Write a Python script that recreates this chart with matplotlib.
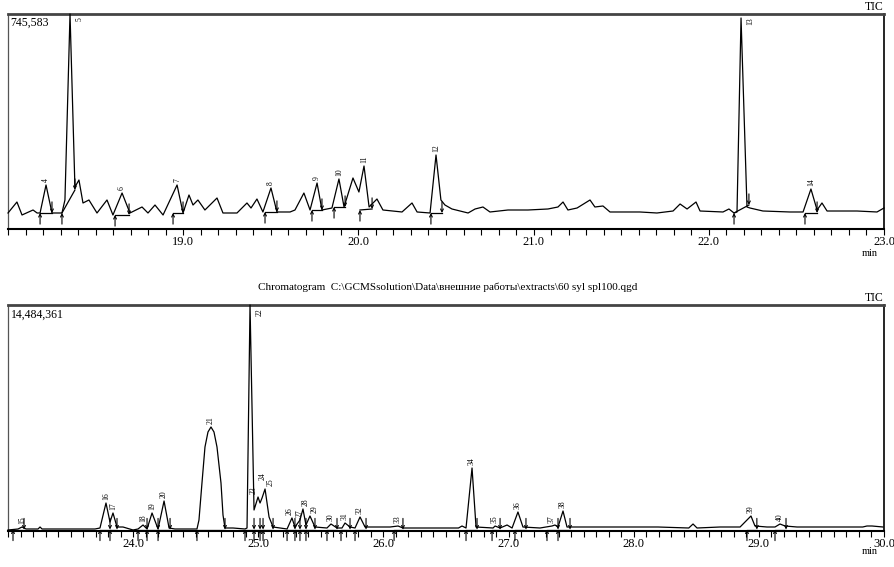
import matplotlib
matplotlib.use("Agg")
import matplotlib.pyplot as plt
import numpy as np
from matplotlib.ticker import MultipleLocator, FixedLocator, FormatStrFormatter

plt.rcParams['font.family'] = ['Liberation Serif', 'DejaVu Serif']

# ---- upper chromatogram (18-23 min), TIC counts ----
top_max = 745583
top_time = [18.000, 18.051, 18.080, 18.143, 18.166, 18.183, 18.217, 18.251, 18.308, 18.325,
            18.354, 18.382, 18.405, 18.428, 18.462, 18.508, 18.565, 18.599, 18.651, 18.696,
            18.765, 18.799, 18.839, 18.885, 18.965, 18.999, 19.033, 19.056, 19.084, 19.124,
            19.193, 19.227, 19.307, 19.364, 19.387, 19.421, 19.455, 19.501, 19.535, 19.610,
            19.638, 19.689, 19.724, 19.764, 19.792, 19.849, 19.889, 19.918, 19.969, 20.003,
            20.032, 20.061, 20.106, 20.140, 20.249, 20.306, 20.335, 20.409, 20.443, 20.471,
            20.494, 20.534, 20.626, 20.666, 20.711, 20.751, 20.854, 20.968, 21.082, 21.139,
            21.168, 21.196, 21.248, 21.322, 21.350, 21.396, 21.436, 21.607, 21.704, 21.796,
            21.836, 21.876, 21.927, 21.950, 22.081, 22.115, 22.144, 22.161, 22.184, 22.218,
            22.235, 22.309, 22.463, 22.538, 22.583, 22.618, 22.646, 22.675, 22.846, 22.960,
            23.000]
top_int = [55500, 93600, 48600, 65900, 55500, 55500, 152600, 55500, 55500, 100600,
           745583, 145700, 169900, 90200, 100600, 55500, 100600, 48600, 124800, 55500,
           76300, 55500, 83200, 48600, 152600, 55500, 117900, 83200, 100600, 65900,
           107500, 55500, 55500, 90200, 72800, 104000, 59000, 142200, 59000, 59000,
           65900, 124800, 65900, 159500, 65900, 72800, 173400, 76300, 176900, 128300,
           218500, 76300, 104000, 65900, 59000, 90200, 59000, 55500, 256600, 100600,
           83200, 69400, 55500, 69400, 76300, 59000, 65900, 65900, 69400, 76300,
           93600, 65900, 72800, 100600, 76300, 79800, 59000, 59000, 55500, 62400,
           86700, 69400, 93600, 62400, 59000, 69400, 55500, 59000, 731700, 76300,
           72800, 62400, 59000, 59000, 138700, 65900, 90200, 62400, 62400, 59000,
           72800]

top_peaks = [4, 5, 6, 7, 8, 9, 10, 11, 12, 13, 14]
top_apex = [18.217, 18.354, 18.651, 18.965, 19.501, 19.764, 19.889, 20.032, 20.443, 22.184, 22.583]
top_start = [18.183, 18.308, 18.611, 18.942, 19.467, 19.735, 19.861, 20.009, 20.414, 22.144, 22.549]
top_end = [18.251, 18.382, 18.691, 18.999, 19.535, 19.792, 19.924, 20.078, 20.477, 22.229, 22.618]
top_base_start = [55500, 55500, 48600, 55500, 59000, 65900, 76300, 65900, 55500, 55500, 55500]
top_base_end = [55500, 135300, 48600, 55500, 59000, 65900, 76300, 69400, 55500, 83200, 55500]

# ---- lower chromatogram (23-30 min) ----
bot_max = 14484361
bot_time = [23.000, 23.080, 23.112, 23.144, 23.240, 23.256, 23.272, 23.695, 23.735, 23.783,
            23.815, 23.839, 23.871, 23.919, 23.999, 24.039, 24.079, 24.111, 24.151, 24.199,
            24.247, 24.287, 24.334, 24.510, 24.526, 24.550, 24.574, 24.598, 24.622, 24.646,
            24.670, 24.702, 24.718, 24.734, 24.798, 24.894, 24.910, 24.934, 24.966, 24.998,
            25.014, 25.030, 25.054, 25.086, 25.118, 25.230, 25.269, 25.293, 25.333, 25.357,
            25.381, 25.413, 25.453, 25.549, 25.581, 25.629, 25.669, 25.693, 25.733, 25.773,
            25.813, 25.853, 25.949, 26.053, 26.117, 26.156, 26.396, 26.600, 26.628, 26.660,
            26.708, 26.740, 26.876, 26.892, 26.932, 26.988, 27.028, 27.075, 27.115, 27.251,
            27.347, 27.371, 27.395, 27.435, 27.467, 27.595, 27.707, 28.194, 28.440, 28.474,
            28.506, 28.690, 28.850, 28.937, 28.969, 29.065, 29.129, 29.169, 29.209, 29.305,
            29.830, 29.864, 29.904, 29.992]
bot_int = [64100, 128200, 256400, 128200, 128200, 256400, 128200, 128200, 192300, 1794500,
           576800, 1153600, 256400, 256400, 64100, 128200, 384500, 128200, 1153600, 128200,
           1922700, 192300, 128200, 128200, 700000, 3076300, 5383600, 6345000, 6665400, 6345000,
           5383600, 3076300, 1025400, 192300, 192300, 128200, 192300, 14484361, 1345900, 2179100,
           1794500, 2115000, 2691800, 897300, 256400, 128200, 833200, 256400, 705000, 1410000,
           384500, 961400, 256400, 192300, 448600, 192300, 192300, 512700, 256400, 192300,
           897300, 256400, 256400, 256400, 320500, 192300, 192300, 192300, 320500, 192300,
           4037700, 256400, 192300, 320500, 192300, 384500, 192300, 1217700, 256400, 192300,
           320500, 384500, 256400, 1281800, 256400, 256400, 256400, 256400, 192300, 448600,
           192300, 256400, 256400, 961400, 320500, 256400, 256400, 448600, 320500, 256400,
           256400, 320500, 320500, 256400]

bot_peaks = list(range(15, 41))
bot_apex = [23.112, 23.783, 23.839, 24.079, 24.151, 24.247, 24.622, 24.934, 24.998, 25.030,
            25.054, 25.269, 25.333, 25.357, 25.413, 25.581, 25.693, 25.813, 26.117, 26.708,
            26.892, 27.075, 27.347, 27.435, 28.937, 29.169]
bot_start = [23.040, 23.735, 23.815, 24.039, 24.111, 24.199, 24.510, 24.894, 24.966, 25.014,
             25.038, 25.230, 25.293, 25.333, 25.381, 25.549, 25.661, 25.773, 26.085, 26.660,
             26.868, 27.051, 27.307, 27.395, 28.905, 29.129]
bot_end = [23.128, 23.815, 23.871, 24.111, 24.199, 24.295, 24.734, 24.966, 25.014, 25.038,
           25.118, 25.293, 25.333, 25.381, 25.453, 25.629, 25.733, 25.861, 26.156, 26.748,
           26.932, 27.139, 27.395, 27.491, 28.984, 29.217]
bot_base_start = [96000] * 26
bot_base_end = [96000] * 26

# small nudges (points) for crowded peak numbers
label_nudge = {23: (-3.5, 2), 24: (0.5, 13), 25: (4, 2),
               26: (-2, 2), 27: (0, 2), 28: (2, 2), 29: (3, 2)}


def draw_panel(ax, t, y, ymax, x0, x1, majors, peaks, apex, start, end, bs, be, max_label):
    ax.plot(t, y, color='black', lw=0.9, clip_on=False, zorder=3)
    ax.set_xlim(x0, x1)
    ax.set_ylim(0, ymax)

    # integration marks: baseline + start/end arrows
    for s, e, b0, b1 in zip(start, end, bs, be):
        ax.plot([s, e], [b0, b1], color='black', lw=0.9, zorder=2)
        ax.annotate('', xy=(s, b0), xytext=(0, -8), textcoords='offset points',
                    arrowprops=dict(arrowstyle='->', lw=0.8, color='black',
                                    shrinkA=0, shrinkB=0, mutation_scale=5),
                    annotation_clip=False)
        ax.annotate('', xy=(e, b1), xytext=(0, 8), textcoords='offset points',
                    arrowprops=dict(arrowstyle='->', lw=0.8, color='black',
                                    shrinkA=0, shrinkB=0, mutation_scale=5),
                    annotation_clip=False)

    # peak numbers
    for n, a in zip(peaks, apex):
        h = np.interp(a, t, y)
        if h > 0.9 * ymax:
            ax.annotate(str(n), xy=(a, ymax), xytext=(4, -2), textcoords='offset points',
                        rotation=90, fontsize=5.5, ha='left', va='top')
        else:
            ax.annotate(str(n), xy=(a, h), xytext=label_nudge.get(n, (0, 2)),
                        textcoords='offset points',
                        rotation=90, fontsize=5.5, ha='center', va='bottom')

    ax.set_yticks([])
    ax.xaxis.set_major_locator(FixedLocator(majors))
    ax.xaxis.set_major_formatter(FormatStrFormatter('%.1f'))
    ax.xaxis.set_minor_locator(MultipleLocator(0.1))
    ax.tick_params(axis='x', which='both', direction='out', length=4, width=0.8,
                   labelsize=9, pad=1)
    ax.spines['top'].set_linewidth(2)
    ax.spines['top'].set_color('#444444')
    ax.spines['left'].set_color('#555555')
    ax.spines['left'].set_linewidth(0.9)
    ax.spines['right'].set_linewidth(1.2)
    ax.spines['bottom'].set_linewidth(1.5)
    ax.text(0.003, 0.985, max_label, transform=ax.transAxes, fontsize=8.5,
            ha='left', va='top')


fig = plt.figure(figsize=(8.95, 5.67), dpi=100)
ax1 = fig.add_axes([8 / 895, 1 - 229 / 567, 876 / 895, 215 / 567])
ax2 = fig.add_axes([8 / 895, 1 - 531 / 567, 876 / 895, 226 / 567])

draw_panel(ax1, top_time, top_int, top_max, 18.0, 23.0, [19.0, 20.0, 21.0, 22.0, 23.0],
           top_peaks, top_apex, top_start, top_end, top_base_start, top_base_end, '745,583')
draw_panel(ax2, bot_time, bot_int, bot_max, 23.0, 30.0, [24.0, 25.0, 26.0, 27.0, 28.0, 29.0, 30.0],
           bot_peaks, bot_apex, bot_start, bot_end, bot_base_start, bot_base_end, '14,484,361')

fig.text(884 / 895, 1 - 7 / 567, 'TIC', fontsize=8.5, ha='right', va='center')
fig.text(884 / 895, 1 - 298 / 567, 'TIC', fontsize=8.5, ha='right', va='center')
fig.text(870 / 895, 1 - 254 / 567, 'min', fontsize=7.5, ha='center', va='center')
fig.text(870 / 895, 1 - 552 / 567, 'min', fontsize=7.5, ha='center', va='center')
fig.text(0.5, 1 - 287 / 567,
         'Chromatogram  C:\\GCMSsolution\\Data\\внешние работы\\extracts\\60 syl spl100.qgd',
         fontsize=8, ha='center', va='center')

fig.savefig('out.png', dpi=100)
